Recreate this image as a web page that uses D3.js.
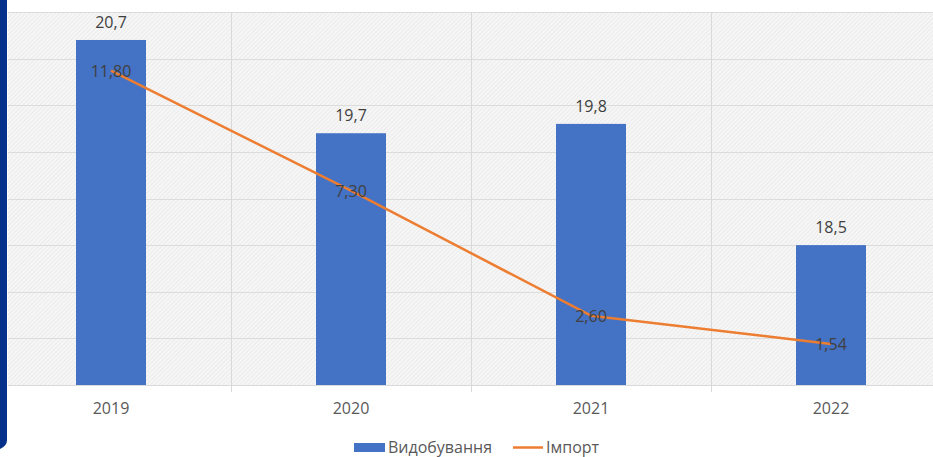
<!DOCTYPE html>
<html>
<head>
<meta charset="utf-8">
<script src="https://cdn.jsdelivr.net/npm/d3@7"></script>
<style>
html,body{margin:0;padding:0;background:#fff;}
svg{display:block;font-family:"Open Sans","Noto Sans",sans-serif;}
</style>
</head>
<body>
<svg id="chart" width="933" height="457"></svg>
<script>
const categories = ["2019", "2020", "2021", "2022"];
const production = [20.7, 19.7, 19.8, 18.5];
const productionLabels = ["20,7", "19,7", "19,8", "18,5"];
const imports = [11.80, 7.30, 2.60, 1.54];
const importLabels = ["11,80", "7,30", "2,60", "1,54"];
const seriesNames = ["Видобування", "Імпорт"];

const svg = d3.select("#chart");
const W = 933, H = 457;
const plotTop = 12, plotBottom = 385;
const x = d3.scaleBand().domain(categories).range([-9, 951]);
const y1 = d3.scaleLinear().domain([17, 21]).range([plotBottom, plotTop]);
const y2 = d3.scaleLinear().domain([0, 14]).range([plotBottom, plotTop]);

// hatch pattern
const defs = svg.append("defs");
const pat = defs.append("pattern").attr("id", "hatch").attr("patternUnits", "userSpaceOnUse")
  .attr("width", 3).attr("height", 3).attr("patternTransform", "rotate(45)");
pat.append("rect").attr("width", 3).attr("height", 3).attr("fill", "#f6f6f6");
pat.append("line").attr("x1", 0).attr("y1", 0).attr("x2", 0).attr("y2", 3)
  .attr("stroke", "#e4e4e4").attr("stroke-width", 1.2);

svg.append("rect").attr("x", 8).attr("y", plotTop).attr("width", W - 8).attr("height", plotBottom - plotTop)
  .attr("fill", "url(#hatch)");

// horizontal gridlines
const gridG = svg.append("g");
gridG.selectAll("line.h").data(y1.ticks(8)).join("line")
  .attr("x1", 8).attr("x2", W)
  .attr("y1", d => Math.round(y1(d)) + 0.5).attr("y2", d => Math.round(y1(d)) + 0.5)
  .attr("stroke", "#dcdcdc").attr("stroke-width", 1);

// vertical gridlines at band boundaries
gridG.selectAll("line.v").data(categories.slice(1)).join("line")
  .attr("x1", d => Math.round(x(d)) + 0.5).attr("x2", d => Math.round(x(d)) + 0.5)
  .attr("y1", plotTop).attr("y2", plotBottom + 7)
  .attr("stroke", "#d9d9d9").attr("stroke-width", 1);

// x axis
const xAxis = d3.axisBottom(x).tickSize(0).tickPadding(18);
const gx = svg.append("g").attr("transform", `translate(0,${plotBottom})`).call(xAxis);
gx.select(".domain").attr("stroke", "#d9d9d9").attr("d", `M8,0.5H${W}`);
gx.selectAll("text").attr("font-size", 16).attr("fill", "#595959")
  .attr("font-family", "'Open Sans',sans-serif");

// bars
const bw = 70;
svg.append("g").selectAll("rect").data(production).join("rect")
  .attr("x", (d, i) => x(categories[i]) + x.bandwidth() / 2 - bw / 2)
  .attr("width", bw)
  .attr("y", d => y1(d))
  .attr("height", d => plotBottom - y1(d))
  .attr("fill", "#4472C4");

// bar labels
svg.append("g").selectAll("text").data(production).join("text")
  .attr("x", (d, i) => x(categories[i]) + x.bandwidth() / 2)
  .attr("y", d => y1(d) - 12)
  .attr("text-anchor", "middle")
  .attr("font-size", 16).attr("fill", "#404040")
  .text((d, i) => productionLabels[i]);

// line
const line = d3.line()
  .x((d, i) => x(categories[i]) + x.bandwidth() / 2)
  .y(d => y2(d));
svg.append("path").datum(imports)
  .attr("d", line).attr("fill", "none")
  .attr("stroke", "#ED7D31").attr("stroke-width", 2.5).attr("stroke-linejoin", "round");

// line labels
svg.append("g").selectAll("text").data(imports).join("text")
  .attr("x", (d, i) => x(categories[i]) + x.bandwidth() / 2)
  .attr("y", d => y2(d) + 6)
  .attr("text-anchor", "middle")
  .attr("font-size", 16).attr("fill", "#404040")
  .text((d, i) => importLabels[i]);

// legend
const lg = svg.append("g").attr("font-size", 16).attr("fill", "#595959");
lg.append("rect").attr("x", 354).attr("y", 443).attr("width", 31).attr("height", 9).attr("fill", "#4472C4");
lg.append("text").attr("x", 388).attr("y", 453).text(seriesNames[0]);
lg.append("line").attr("x1", 513).attr("x2", 543).attr("y1", 447.5).attr("y2", 447.5)
  .attr("stroke", "#ED7D31").attr("stroke-width", 2.5);
lg.append("text").attr("x", 546).attr("y", 453).text(seriesNames[1]);

// left navy strip
svg.append("path")
  .attr("d", "M0,0H7V440Q7,446 0,449Z")
  .attr("fill", "#06318a");
</script>
</body>
</html>
